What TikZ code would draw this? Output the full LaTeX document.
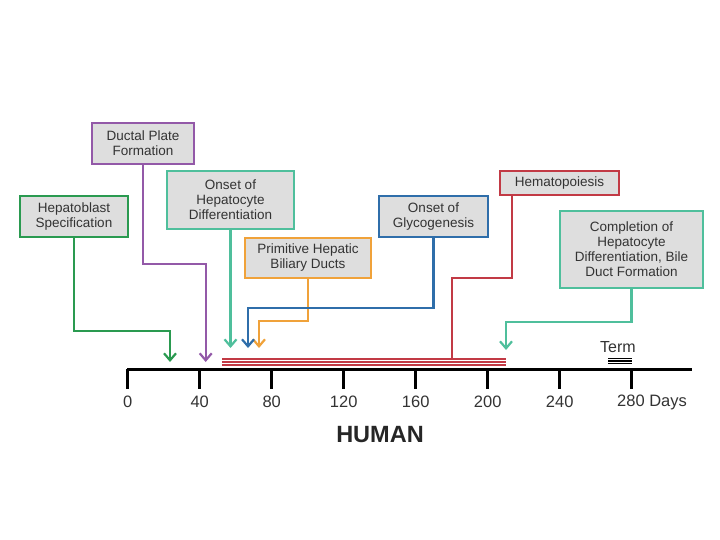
\documentclass[tikz,border=0pt]{standalone}
\usepackage{fontspec}
\setmainfont{Liberation Sans}
\usetikzlibrary{arrows.meta}
\definecolor{cgreen}{HTML}{2A9A50}
\definecolor{cpurple}{HTML}{9359A8}
\definecolor{cteal}{HTML}{4FBF9C}
\definecolor{corange}{HTML}{F0A23A}
\definecolor{cblue}{HTML}{2F6EAA}
\definecolor{cred}{HTML}{C23A45}
\definecolor{cfill}{HTML}{DEDEDE}
\definecolor{ctext}{HTML}{333333}
\tikzset{
  evbox/.style={draw, line width=2.4pt, fill=cfill, align=center, inner sep=0pt,
    text=ctext, font=\fontsize{13.5}{15}\selectfont},
  conn/.style={line width=2.2pt, -{Straight Barb[length=7pt,width=12pt]}},
  connplain/.style={line width=2.2pt},
  ticklab/.style={text=ctext, font=\fontsize{16.5}{18}\selectfont, inner sep=0pt},
}
\begin{document}
\begin{tikzpicture}[x=1pt,y=-1pt]
\useasboundingbox (0,0) rectangle (720,540);
% boxes
\node[evbox, draw=cgreen, minimum width=108pt, minimum height=41pt] (hep) at (74,216.5) {Hepatoblast\\Specification};
\node[evbox, draw=cpurple, minimum width=102pt, minimum height=41pt] (duct) at (143,143.5) {Ductal Plate\\Formation};
\node[evbox, draw=cteal, minimum width=127pt, minimum height=58pt] (onset) at (230.5,200) {Onset of\\Hepatocyte\\Differentiation};
\node[evbox, draw=corange, minimum width=126pt, minimum height=40pt] (prim) at (308,258) {Primitive Hepatic\\Biliary Ducts};
\node[evbox, draw=cblue, minimum width=109pt, minimum height=41pt] (glyc) at (433.5,216.5) {Onset of\\Glycogenesis};
\node[evbox, draw=cred, minimum width=119pt, minimum height=24pt] (hema) at (559.5,183) {Hematopoiesis};
\node[evbox, draw=cteal, minimum width=143pt, minimum height=77pt] (compl) at (631.5,249.5) {Completion of\\Hepatocyte\\Differentiation, Bile\\Duct Formation};
% axis
\coordinate (ax0) at (127,369);
\coordinate (ax1) at (692,369);
\draw[line width=3pt] (ax0) -- (ax1);
\foreach \d in {0,40,...,280} {
  \draw[line width=3.5pt] (127.7+1.8*\d,369) -- (127.7+1.8*\d,389);
}
\foreach \d in {0,40,...,240} {
  \node[ticklab] (lab\d) at (127.7+1.8*\d,402) {\d};
}
\node[ticklab, anchor=west] (lab280) at (617,402) {280 Days};
\node[text=black!85, font=\fontsize{23.5}{26}\selectfont\bfseries, inner sep=0pt] (human) at (380,435) {HUMAN};
% red hematopoiesis bar
\coordinate (rb0) at (222,362);
\coordinate (rb1) at (506,362);
\foreach \o in {-2.8,0,2.8} {
  \draw[cred, line width=1.5pt] ([yshift=\o pt]rb0) -- ([yshift=\o pt]rb1);
}
% term
\node[text=ctext, font=\fontsize{16}{18}\selectfont, inner sep=0pt] (term) at (618,347) {Term};
\coordinate (tm0) at (608,361);
\coordinate (tm1) at (632,361);
\foreach \o in {-2.5,0,2.5} {
  \draw[black, line width=1.2pt] ([yshift=\o pt]tm0) -- ([yshift=\o pt]tm1);
}
% connector coordinates
\coordinate (e1) at (170,331); \coordinate (t1) at (170,362);
\coordinate (e2) at (205.7,264); \coordinate (t2) at (205.7,362);
\coordinate (t3) at (230.5,348);
\coordinate (e4) at (259,321); \coordinate (t4) at (259,348);
\coordinate (e5) at (248,308); \coordinate (t5) at (248,348);
\coordinate (e6) at (452,278); \coordinate (t6) at (452,360);
\coordinate (e7) at (506,322); \coordinate (t7) at (506,350);
% connectors
\draw[conn, cgreen] (hep.south) |- (e1) -- (t1);
\draw[conn, cpurple] (duct.south) |- (e2) -- (t2);
\draw[conn, cteal] (onset.south) -- (t3);
\draw[conn, corange] (prim.south) |- (e4) -- (t4);
\draw[conn, cblue] (glyc.south) |- (e5) -- (t5);
\draw[connplain, cred] ([xshift=13pt]hema.south west) |- (e6) -- (t6);
\draw[conn, cteal] (compl.south) |- (e7) -- (t7);
\end{tikzpicture}
\end{document}
